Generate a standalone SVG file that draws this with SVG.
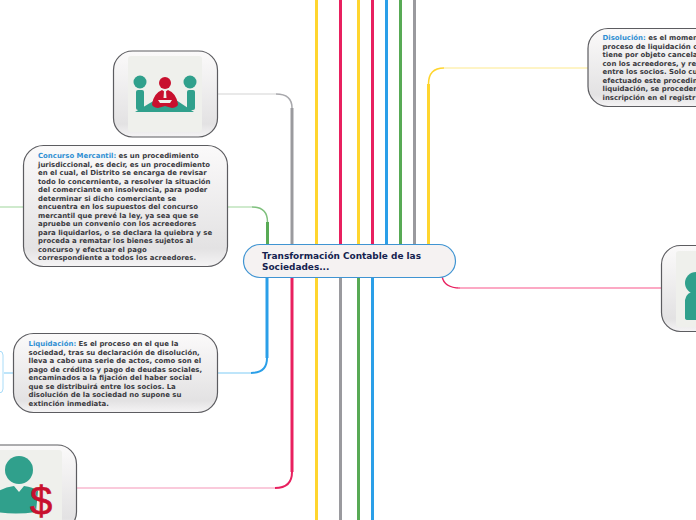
<svg xmlns="http://www.w3.org/2000/svg" width="696" height="520" viewBox="0 0 696 520">
<defs>
<linearGradient id="g" x1="0" y1="0" x2="0" y2="1"><stop offset="0" stop-color="#fbfafa"/><stop offset=".85" stop-color="#e3e2e3"/><stop offset="1" stop-color="#f5f4f5"/></linearGradient>
</defs>
<style>
text{font-family:"DejaVu Sans",Verdana,sans-serif;font-weight:700}
.b{font-size:6.95px;fill:#3a3a3f}
.h{fill:#2f8fd3}
.t{font-size:8.95px;fill:#14224f}
.n{fill:url(#g);stroke:#5c5c60;stroke-width:1.2}
.c{fill:none;stroke-width:3}
.m{fill:none;stroke-width:2}
.f{fill:none;stroke-width:1.5}
.teal{fill:#30a08c}
.red{fill:#c8102e}
</style>
<rect width="696" height="520" fill="#fff"/>
<g id="connectors">
<path class="c" stroke="#ffd52e" d="M316.500 0V520"/>
<path class="c" stroke="#e8205f" d="M340.500 0V250"/>
<path class="c" stroke="#9a9a9e" d="M340.500 270V520"/>
<path class="c" stroke="#ffd52e" d="M358.500 0V250"/>
<path class="c" stroke="#58aa55" d="M358.500 270V520"/>
<path class="c" stroke="#e8205f" d="M372.500 0V250"/>
<path class="c" stroke="#2a9fe8" d="M372.500 270V520"/>
<path class="c" stroke="#2a9fe8" d="M386.500 0V250"/>
<path class="c" stroke="#58aa55" d="M400.500 0V250"/>
<path class="c" stroke="#9a9a9e" d="M414.500 0V250"/>
<path class="c" stroke="#ffd52e" d="M428.500 250V84"/>
<path class="f" stroke="#ffd52e" d="M428.500 84Q428.500 68 444 68"/>
<path fill="none" stroke-width="1" stroke="#fde98c" d="M444 68H590"/>
<path class="c" stroke="#9a9a9e" d="M292 250V108"/>
<path class="f" stroke="#a8a8ac" d="M292 108Q292 94 276 94"/>
<path class="f" stroke="#e2e2e2" d="M276 94H217"/>
<path class="c" stroke="#58aa55" d="M267.500 250V222"/>
<path class="f" stroke="#7fc07d" d="M267.500 222Q267.500 207 252 207"/>
<path class="f" stroke="#bfe3bd" d="M252 207H226"/>
<path class="f" stroke="#bfe3bd" d="M0 207H24"/>
<path class="c" stroke="#2a9fe8" d="M267 270V358"/>
<path class="m" stroke="#2a9fe8" d="M267 358Q267 373 251 373"/>
<path class="f" stroke="#a9dcf8" d="M251 373H217"/>
<path class="f" stroke="#a9dcf8" d="M4 373H14"/>
<path class="c" stroke="#e8205f" d="M292 270V472"/>
<path class="m" stroke="#e8205f" d="M292 472Q292 488 275 488"/>
<path class="f" stroke="#f8b9cf" d="M275 488H76"/>
<path class="f" stroke="#e8205f" d="M442 276Q444 288 460 288"/>
<path class="f" stroke="#fb8db0" d="M458 288H662"/>
</g>
<g id="node-liquidacion-child"><rect x="-10" y="351" width="13" height="42" rx="4" fill="#fff" stroke="#a9dcf8"/></g>
<g id="node-central">
<rect x="243.500" y="244.500" width="212" height="33" rx="16.500" fill="#f5f2f2" stroke="#3f94d2" stroke-width="1.2"/>
<text class="t" x="262" y="259">Transformación Contable de las</text>
<text class="t" x="262" y="270">Sociedades...</text>
</g>
<g id="node-reunion">
<rect class="n" x="113.500" y="51" width="104" height="86" rx="19"/>
<rect x="128" y="56" width="74" height="76" rx="3" fill="#eff0ec"/>
<circle class="teal" cx="140" cy="82" r="6.500"/><circle class="teal" cx="190" cy="82" r="6.500"/>
<rect class="teal" x="136" y="90" width="8" height="20" rx="2"/><rect class="teal" x="187" y="90" width="8" height="20" rx="2"/>
<path class="teal" d="M135 112L155 100H176L194 112Z"/>
<circle class="red" cx="165" cy="83" r="6"/>
<path class="red" d="M152 104Q154 93 162 90L165 92L168 90Q176 93 178 104Q178 107 172 108L165 106L158 108Q152 107 152 104Z"/>
<path fill="#eff0ec" d="M164 91H166L166.500 98H163.500ZM158 100H172L170 103H160Z"/>
</g>
<g id="node-concurso">
<rect class="n" x="23.500" y="145.500" width="204" height="121" rx="20"/>
<text class="b"><tspan class="h" x="38" y="158">Concurso Mercantil:</tspan><tspan> es un procedimiento</tspan>
<tspan x="38" y="166.500">jurisdiccional, es decir, es un procedimiento</tspan>
<tspan x="38" y="175">en el cual, el Distrito se encarga de revisar</tspan>
<tspan x="38" y="183.500">todo lo concerniente, a resolver la situación</tspan>
<tspan x="38" y="192">del comerciante en insolvencia, para poder</tspan>
<tspan x="38" y="200.500">determinar si dicho comerciante se</tspan>
<tspan x="38" y="209">encuentra en los supuestos del concurso</tspan>
<tspan x="38" y="217.500">mercantil que prevé la ley, ya sea que se</tspan>
<tspan x="38" y="226">apruebe un convenio con los acreedores</tspan>
<tspan x="38" y="234.500">para liquidarlos, o se declara la quiebra y se</tspan>
<tspan x="38" y="243">proceda a rematar los bienes sujetos al</tspan>
<tspan x="38" y="251.500">concurso y efectuar el pago</tspan>
<tspan x="38" y="260">correspondiente a todos los acreedores.</tspan></text>
</g>
<g id="node-liquidacion">
<rect class="n" x="13.500" y="333.500" width="204" height="79" rx="20"/>
<text class="b"><tspan class="h" x="28.500" y="346">Liquidación:</tspan><tspan> Es el proceso en el que la</tspan>
<tspan x="28.500" y="354.500">sociedad, tras su declaración de disolución,</tspan>
<tspan x="28.500" y="363">lleva a cabo una serie de actos, como son el</tspan>
<tspan x="28.500" y="371.500">pago de créditos y pago de deudas sociales,</tspan>
<tspan x="28.500" y="380">encaminados a la fijación del haber social</tspan>
<tspan x="28.500" y="388.500">que se distribuirá entre los socios. La</tspan>
<tspan x="28.500" y="397">disolución de la sociedad no supone su</tspan>
<tspan x="28.500" y="405.500">extinción inmediata.</tspan></text>
</g>
<g id="node-dinero">
<rect class="n" x="-27" y="445" width="103.500" height="86" rx="19"/>
<rect x="-12" y="450" width="74" height="76" rx="3" fill="#eff0ec"/>
<circle class="teal" cx="19" cy="470" r="14"/>
<path class="teal" d="M-12 500Q-2 488 14 486L19 492L24 486Q33 487 38 491L36 512Q10 516 -12 510Z"/>
<text x="41" y="515" font-size="40" style="font-family:'Liberation Sans',sans-serif;font-weight:400" fill="#c8102e" stroke="#c8102e" stroke-width=".7" text-anchor="middle">$</text>
</g>
<g id="node-disolucion">
<rect class="n" x="588" y="28.500" width="130" height="78" rx="20"/>
<text class="b"><tspan class="h" x="602.500" y="40">Disolución:</tspan><tspan> es el momen</tspan>
<tspan x="602.500" y="48.500">proceso de liquidación c</tspan>
<tspan x="602.500" y="57">tiene por objeto cancela</tspan>
<tspan x="602.500" y="65.500">con los acreedores, y re</tspan>
<tspan x="602.500" y="74">entre los socios. Solo cu</tspan>
<tspan x="602.500" y="82.500">efectuado este procedin</tspan>
<tspan x="602.500" y="91">liquidación, se proceder</tspan>
<tspan x="602.500" y="99.500">inscripción en el registr</tspan></text>
</g>
<g id="node-persona">
<rect class="n" x="661.500" y="245.500" width="104" height="86" rx="19"/>
<rect x="676" y="251" width="74" height="76" rx="3" fill="#eff0ec"/>
<circle class="teal" cx="696" cy="283" r="11"/>
<path class="teal" d="M685 318V300Q686 292 696 291V320H688Q685 320 685 318Z"/>
</g>
</svg>
